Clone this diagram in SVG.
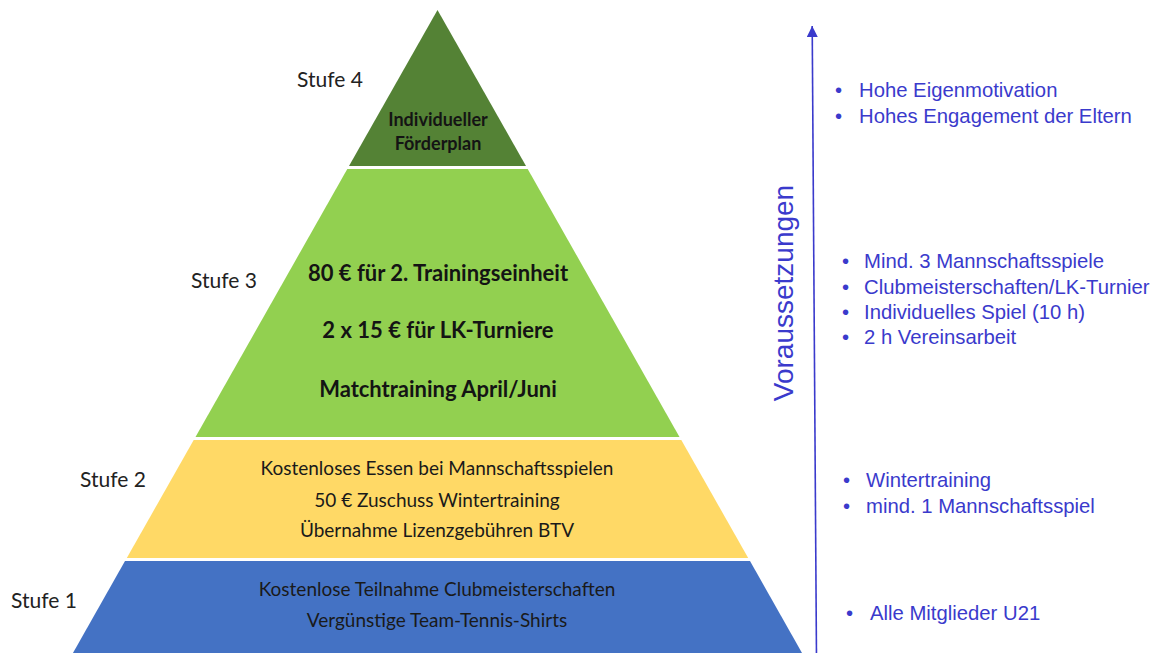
<svg xmlns="http://www.w3.org/2000/svg" width="1161" height="653" viewBox="0 0 1161 653">
<style>
.lbl{font-family:Lato,"Open Sans",sans-serif;font-size:21px;fill:#222}
.b{font-family:Lato,"Open Sans",sans-serif;font-weight:bold;fill:#141414;text-anchor:middle}
.r{font-family:Lato,"Open Sans",sans-serif;fill:#1a1a1a;text-anchor:middle;font-size:19px}
.req{font-family:"Liberation Sans",Arial,sans-serif;font-size:20.3px;fill:#3a3acc}
</style>
<defs>
<marker id="ah" markerWidth="11" markerHeight="11" refX="10" refY="5" orient="auto" markerUnits="userSpaceOnUse" viewBox="0 0 10 10">
<path d="M0,0 L10,5 L0,10 Z" fill="#3a3acc"/>
</marker>
</defs>
<rect width="1161" height="653" fill="#fff"/>
<g id="stufe4">
<polygon points="437.5,10 526,166 349,166" fill="#548235"/>
<text class="b" x="438" y="126" font-size="18">Individueller</text>
<text class="b" x="438" y="150" font-size="18">Förderplan</text>
<text class="lbl" x="297" y="87">Stufe 4</text>
</g>
<g id="stufe3">
<polygon points="347.3,169 527.7,169 679.5,437 195.5,437" fill="#92d050"/>
<text class="b" x="438" y="281" font-size="22">80 € für 2. Trainingseinheit</text>
<text class="b" x="438" y="338" font-size="22">2 x 15 € für LK-Turniere</text>
<text class="b" x="438" y="397" font-size="22">Matchtraining April/Juni</text>
<text class="lbl" x="191" y="288">Stufe 3</text>
</g>
<g id="stufe2">
<polygon points="193.7,440 681.3,440 748.2,558 126.8,558" fill="#ffd966"/>
<text class="r" x="437" y="475">Kostenloses Essen bei Mannschaftsspielen</text>
<text class="r" x="437" y="507">50 € Zuschuss Wintertraining</text>
<text class="r" x="437" y="537">Übernahme Lizenzgebühren BTV</text>
<text class="lbl" x="80" y="487">Stufe 2</text>
</g>
<g id="stufe1">
<polygon points="125,561 750,561 806,660 69,660" fill="#4472c4"/>
<text class="r" x="437" y="596">Kostenlose Teilnahme Clubmeisterschaften</text>
<text class="r" x="437" y="627">Vergünstige Team-Tennis-Shirts</text>
<text class="lbl" x="11" y="608">Stufe 1</text>
</g>
<g id="connectors">
<line x1="816.5" y1="660" x2="812.2" y2="26" stroke="#3a3acc" stroke-width="1.6" marker-end="url(#ah)"/>
</g>
<g id="voraussetzungen">
<text x="0" y="0" transform="translate(793,293) rotate(-90)" text-anchor="middle" font-family="Liberation Sans,Arial,sans-serif" font-size="28" fill="#3a3acc">Voraussetzungen</text>
</g>
<g id="req4">
<text class="req" x="835" y="97">•</text><text class="req" x="859" y="97">Hohe Eigenmotivation</text>
<text class="req" x="835" y="123">•</text><text class="req" x="859" y="123">Hohes Engagement der Eltern</text>
</g>
<g id="req3">
<text class="req" x="842" y="268">•</text><text class="req" x="864" y="268">Mind. 3 Mannschaftsspiele</text>
<text class="req" x="842" y="294">•</text><text class="req" x="864" y="294">Clubmeisterschaften/LK-Turnier</text>
<text class="req" x="842" y="319">•</text><text class="req" x="864" y="319">Individuelles Spiel (10 h)</text>
<text class="req" x="842" y="344">•</text><text class="req" x="864" y="344">2 h Vereinsarbeit</text>
</g>
<g id="req2">
<text class="req" x="843" y="487">•</text><text class="req" x="866" y="487">Wintertraining</text>
<text class="req" x="843" y="513">•</text><text class="req" x="866" y="513">mind. 1 Mannschaftsspiel</text>
</g>
<g id="req1">
<text class="req" x="846" y="620">•</text><text class="req" x="870" y="620">Alle Mitglieder U21</text>
</g>
</svg>
